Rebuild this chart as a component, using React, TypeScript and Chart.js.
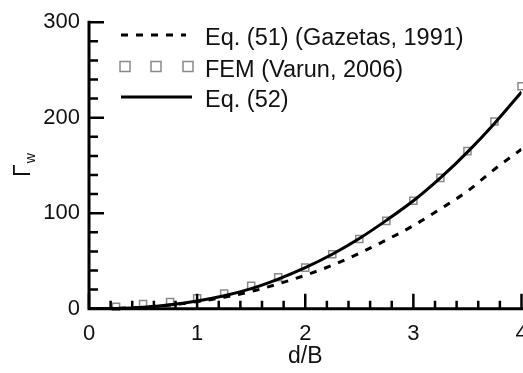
import React, { useEffect, useRef } from "react";
import { Chart, registerables } from "chart.js";

Chart.register(...registerables);

// ---- data ----
const dValues = [0, 0.25, 0.5, 0.75, 1, 1.25, 1.5, 1.75, 2, 2.25, 2.5, 2.75, 3, 3.25, 3.5, 3.75, 4];
const eq51Values = [0, 0.3, 1.5, 3.8, 7.4, 12, 18, 26, 35, 45.5, 58, 72, 87, 104.5, 123, 146, 167];
const eq52Values = [0, 0.3, 1.5, 4.1, 8, 13.5, 21, 31, 43, 57, 73.5, 92.5, 113, 137, 164, 194, 227];
const femD = [0.25, 0.5, 0.75, 1, 1.25, 1.5, 1.75, 2, 2.25, 2.5, 2.75, 3, 3.25, 3.5, 3.75, 4];
const femValues = [2, 5, 7, 11, 16, 24, 33, 43, 57, 73, 92, 113, 137, 165, 196, 233];
const xTickValues = [0, 1, 2, 3, 4];
const yTickValues = [0, 100, 200, 300];
const seriesLabels = ["Eq. (51) (Gazetas, 1991)", "FEM (Varun, 2006)", "Eq. (52)"];
const xTitle = "d/B";
const yTitleMain = "Γ";
const yTitleSub = "w";

const FONT = "'Liberation Sans', Arial, Helvetica, sans-serif";
const DASH = [7, 8];

const decorPlugin = {
  id: "decor",
  afterDraw(chart: any) {
    const ctx = chart.ctx as CanvasRenderingContext2D;
    const xs = chart.scales.x;
    const ys = chart.scales.y;
    const ca = chart.chartArea;
    ctx.save();
    // axes
    ctx.strokeStyle = "#000";
    ctx.lineWidth = 3;
    ctx.beginPath();
    ctx.moveTo(ca.left, ys.getPixelForValue(ys.max) - 1.5);
    ctx.lineTo(ca.left, ca.bottom);
    ctx.lineTo(chart.width, ca.bottom);
    ctx.stroke();
    // ticks (inward)
    ctx.lineWidth = 2.5;
    ctx.beginPath();
    for (let i = 0; i <= 15; i++) {
      const v = (ys.max / 15) * i;
      const y = ys.getPixelForValue(v);
      const major = i % 5 === 0;
      ctx.moveTo(ca.left, y);
      ctx.lineTo(ca.left + (major ? 15 : 9), y);
    }
    for (let i = 0; i <= 20; i++) {
      const v = (xs.max / 20) * i;
      const x = xs.getPixelForValue(v);
      const major = i % 5 === 0;
      ctx.moveTo(x, ca.bottom);
      ctx.lineTo(x, ca.bottom - (major ? 15 : 8));
    }
    ctx.stroke();

    // y title: Γ with subscript w, rotated
    ctx.fillStyle = "#111";
    ctx.translate(30, 177);
    ctx.rotate(-Math.PI / 2);
    ctx.textBaseline = "alphabetic";
    ctx.textAlign = "left";
    ctx.font = `23px ${FONT}`;
    ctx.fillText(yTitleMain, 0, 0);
    const gw = ctx.measureText(yTitleMain).width;
    ctx.font = `14px ${FONT}`;
    ctx.fillText(yTitleSub, gw + 1, 5);
    ctx.restore();

    // legend
    ctx.save();
    const rows = [35, 66.5, 97];
    const sx0 = 121, sx1 = 192;
    ctx.strokeStyle = "#000";
    ctx.lineWidth = 3;
    ctx.setLineDash(DASH);
    ctx.beginPath();
    ctx.moveTo(sx0, rows[0]);
    ctx.lineTo(186, rows[0]);
    ctx.stroke();
    ctx.setLineDash([]);
    ctx.strokeStyle = "#8a8a8a";
    ctx.lineWidth = 1.5;
    [125, 156, 188].forEach((cx) => {
      ctx.strokeRect(cx - 5, rows[1] - 5, 10, 10);
    });
    ctx.strokeStyle = "#000";
    ctx.lineWidth = 3;
    ctx.beginPath();
    ctx.moveTo(sx0, rows[2]);
    ctx.lineTo(sx1, rows[2]);
    ctx.stroke();
    ctx.fillStyle = "#111";
    ctx.font = `23.5px ${FONT}`;
    ctx.textAlign = "left";
    ctx.textBaseline = "alphabetic";
    seriesLabels.forEach((t, i) => ctx.fillText(t, 205, rows[i] + 10));
    ctx.restore();
  },
};

export default function App() {
  const ref = useRef<HTMLCanvasElement | null>(null);
  useEffect(() => {
    if (!ref.current) return;
    const chart = new Chart(ref.current, {
      type: "scatter",
      data: {
        datasets: [
          {
            label: seriesLabels[2],
            data: dValues.map((d, i) => ({ x: d, y: eq52Values[i] })),
            showLine: true,
            borderColor: "#000",
            borderWidth: 3,
            pointRadius: 0,
            cubicInterpolationMode: "monotone",
            order: 0,
          } as any,
          {
            label: seriesLabels[0],
            data: dValues.map((d, i) => ({ x: d, y: eq51Values[i] })),
            showLine: true,
            borderColor: "#000",
            borderWidth: 3,
            borderDash: DASH,
            pointRadius: 0,
            cubicInterpolationMode: "monotone",
            order: 1,
          } as any,
          {
            label: seriesLabels[1],
            data: femD.map((d, i) => ({ x: d, y: femValues[i] })),
            showLine: false,
            pointStyle: "rect",
            pointRadius: 5,
            pointBorderWidth: 1.5,
            pointBorderColor: "#8a8a8a",
            pointBackgroundColor: "rgba(0,0,0,0)",
            clip: false,
            order: 2,
          } as any,
        ],
      },
      options: {
        animation: false,
        responsive: false,
        layout: { padding: { left: 0, right: 545 - 521.5, top: 20.7, bottom: 0 } },
        plugins: { legend: { display: false }, tooltip: { enabled: false } },
        scales: {
          x: {
            type: "linear",
            min: 0,
            max: 4,
            afterBuildTicks: (s: any) => {
              s.ticks = xTickValues.map((v) => ({ value: v }));
            },
            afterFit: (s: any) => {
              s.height = 373 - 308.7;
            },
            grid: { display: false, drawTicks: false },
            border: { display: false },
            ticks: {
              color: "#111",
              font: { family: FONT, size: 22 },
              padding: 12,
              maxRotation: 0,
              autoSkip: false,
            },
            title: {
              display: true,
              text: xTitle,
              color: "#111",
              font: { family: FONT, size: 23 },
              padding: { top: 0, bottom: 3 },
            },
          },
          y: {
            type: "linear",
            min: 0,
            max: 300,
            afterBuildTicks: (s: any) => {
              s.ticks = yTickValues.map((v) => ({ value: v }));
            },
            afterFit: (s: any) => {
              s.width = 89;
            },
            grid: { display: false, drawTicks: false },
            border: { display: false },
            ticks: {
              color: "#111",
              font: { family: FONT, size: 22 },
              padding: 9,
            },
          },
        },
      },
      plugins: [decorPlugin],
    });
    return () => chart.destroy();
  }, []);
  return (
    <div
      style={{
        position: "fixed",
        left: 0,
        top: 0,
        width: 523,
        height: 373,
        overflow: "hidden",
        background: "#fff",
      }}
    >
      <canvas ref={ref} width={545} height={373} style={{ display: "block" }} />
    </div>
  );
}
